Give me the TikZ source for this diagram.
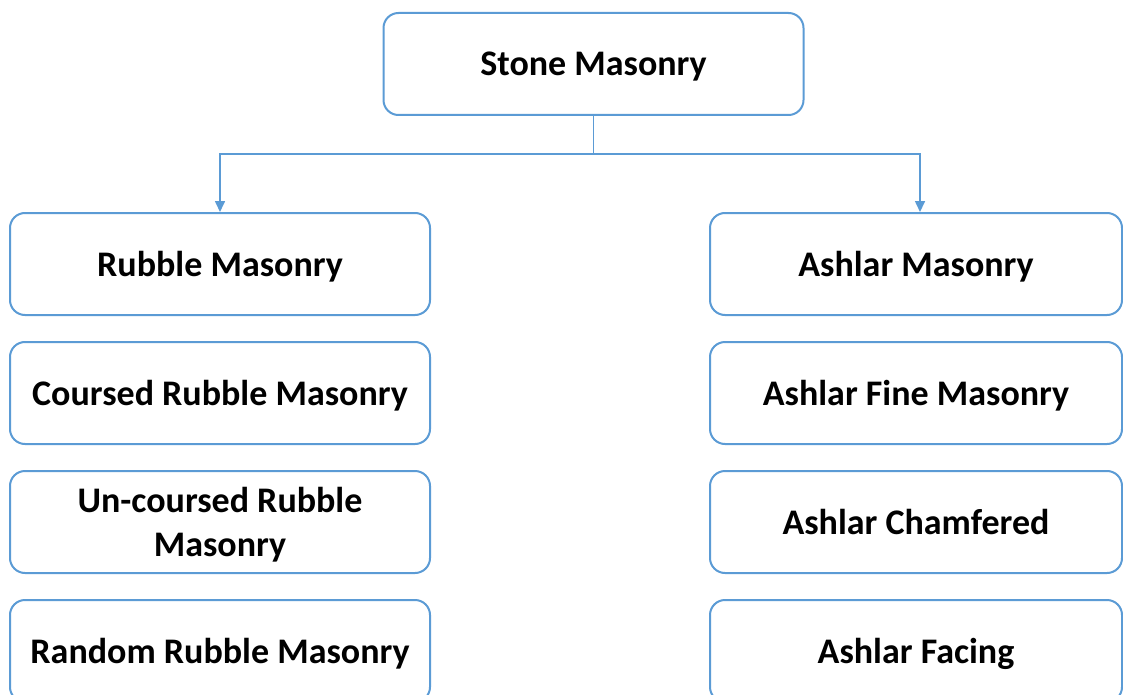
\documentclass[tikz,border=0pt]{standalone}
\usepackage{fontspec}
\setmainfont{Carlito}
\usetikzlibrary{arrows.meta,positioning}
\definecolor{lineblue}{RGB}{91,155,213}

\tikzset{
  masonbox/.style={draw=lineblue,line width=2pt,rounded corners=15pt,fill=white,
    minimum height=102pt,align=center,text depth=0pt,font=\fontsize{36}{44}\selectfont\bfseries},
  masonarrow/.style={-{Triangle[length=11pt,width=10pt]},draw=lineblue,line width=1.6pt}
}

\begin{document}
\begin{tikzpicture}[x=1pt,y=1pt,node distance=25pt]
  \useasboundingbox (0,0) rectangle (1123,-695);
  \node[masonbox,minimum width=420pt] (stone) at (593.5,-64) {Stone Masonry};
  % rubble column
  \node[masonbox,minimum width=420pt] (rubble) at (220,-264) {Rubble Masonry};
  \node[masonbox,minimum width=420pt,below=of rubble] (coursed) {Coursed Rubble Masonry};
  \node[masonbox,minimum width=420pt,below=of coursed] (uncoursed) {Un-coursed Rubble\\Masonry};
  \node[masonbox,minimum width=420pt,below=of uncoursed] (random) {Random Rubble Masonry};
  % ashlar column
  \node[masonbox,minimum width=412pt] (ashlar) at (916,-264) {Ashlar Masonry};
  \node[masonbox,minimum width=412pt,below=of ashlar] (fine) {Ashlar Fine Masonry};
  \node[masonbox,minimum width=412pt,below=of fine] (chamfered) {Ashlar Chamfered};
  \node[masonbox,minimum width=412pt,below=of chamfered] (facing) {Ashlar Facing};
  \coordinate (split) at ([yshift=-38pt]stone.south);
  \draw[draw=lineblue,line width=1.6pt] (stone.south) -- (split);
  \draw[masonarrow] (split) -| (rubble.north);
  \draw[masonarrow] (split) -| ([xshift=4pt]ashlar.north);
\end{tikzpicture}
\end{document}
